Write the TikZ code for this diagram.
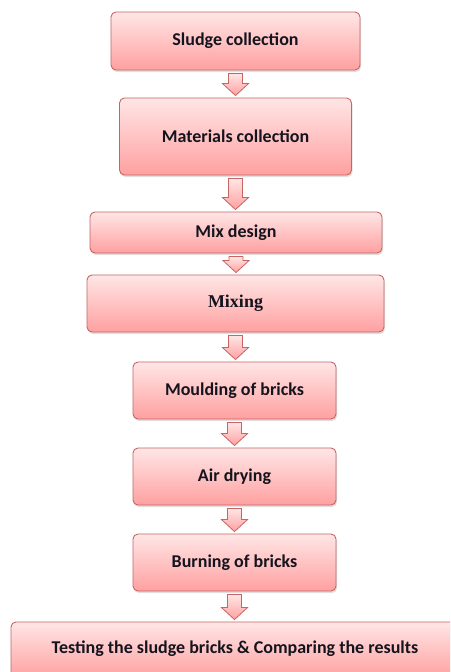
\documentclass[tikz,border=0pt]{standalone}
\usepackage{fontspec}
\setmainfont{Carlito}
\newfontfamily\timesbold{Liberation Serif}
\usetikzlibrary{calc,shadows}
\definecolor{boxtop}{RGB}{255,230,230}
\definecolor{boxbot}{RGB}{255,160,160}
\definecolor{boxline}{RGB}{200,100,100}
\definecolor{txt}{RGB}{20,20,30}
\tikzset{
  stepbox/.style={rectangle, rounded corners=5pt, draw=boxline, line width=0.9pt,
    top color=boxtop, bottom color=boxbot, text=txt,
    font=\fontsize{18}{20}\selectfont\bfseries,
    drop shadow={opacity=0.25, shadow xshift=1pt, shadow yshift=-2pt},
    inner sep=0pt, anchor=center},
  blockarrow/.style={draw=boxline, line width=0.8pt, line join=miter,
    top color=boxtop, bottom color=boxbot}
}
\newcommand\barrow[2]{%
  \path[blockarrow] let \p1=(#1.south), \p2=(#2.north) in
    (\x1-7pt,\y1-3pt) -- (\x1+7pt,\y1-3pt) -- (\x1+7pt,\y2+14pt) -- (\x1+13pt,\y2+14pt)
    -- (\x1,\y2+2pt) -- (\x1-13pt,\y2+14pt) -- (\x1-7pt,\y2+14pt) -- cycle;}
\begin{document}
\begin{tikzpicture}[x=1pt,y=-1pt]
\useasboundingbox[fill=white] (0,0) rectangle (450,672);
\clip (0,0) rectangle (450,672);
\node[stepbox, minimum width=249pt, minimum height=58pt] (s1) at (235.5,41) {Sludge collection};
\node[stepbox, minimum width=232pt, minimum height=77pt] (s2) at (235.5,136.5) {Materials collection};
\node[stepbox, minimum width=292pt, minimum height=41pt] (s3) at (236,232.5) {Mix design};
\node[stepbox, minimum width=297pt, minimum height=57pt, font=\fontsize{18}{20}\timesbold\bfseries] (s4) at (235.5,303.5) {Mixing};
\node[stepbox, minimum width=203pt, minimum height=57pt] (s5) at (234.5,390.5) {Moulding of bricks};
\node[stepbox, minimum width=203pt, minimum height=57pt] (s6) at (234.5,476.5) {Air drying};
\node[stepbox, minimum width=203pt, minimum height=57pt] (s7) at (234.5,562.5) {Burning of bricks};
\node[stepbox, minimum width=478pt, minimum height=56pt] (s8) at (250,650) {};
\node[text=txt, font=\fontsize{18}{20}\selectfont\bfseries] (t8) at (235,649) {Testing the sludge bricks \& Comparing the results};
\barrow{s1}{s2}
\barrow{s2}{s3}
\barrow{s3}{s4}
\barrow{s4}{s5}
\barrow{s5}{s6}
\barrow{s6}{s7}
\barrow{s7}{s8}
\end{tikzpicture}
\end{document}
